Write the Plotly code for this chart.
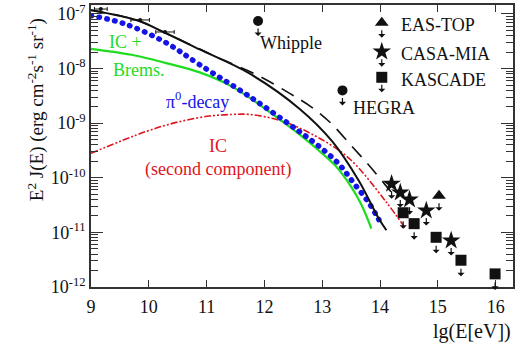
import numpy as np
import plotly.graph_objects as go

# ---- model curves: lg(E/eV) and log10(E^2 J(E)) ----
total_lge = [9.0, 9.81, 10.27, 10.88, 11.74, 12.6, 13.17, 13.63, 13.97, 14.11]
total_log = [-6.93, -7.12, -7.34, -7.65, -8.09, -8.73, -9.33, -10.05, -10.73, -10.96]

alt_lge = [9.0, 9.81, 10.27, 10.88, 11.17, 11.86, 12.43, 12.82, 13.15, 13.51, 13.8, 14.09, 14.27]
alt_log = [-6.93, -7.12, -7.34, -7.64, -7.79, -8.11, -8.45, -8.71, -9.0, -9.42, -9.76, -10.13, -10.36]

pion_lge = [9.0, 9.58, 10.27, 10.88, 11.74, 12.6, 12.94, 13.29, 13.54, 13.8, 13.97, 14.03]
pion_log = [-7.03, -7.18, -7.51, -7.93, -8.51, -9.15, -9.42, -9.75, -10.09, -10.45, -10.75, -10.87]

icb_lge = [9.0, 9.76, 10.3, 10.88, 11.44, 12.03, 12.5, 12.94, 13.23, 13.51, 13.68, 13.85]
icb_log = [-7.64, -7.76, -7.9, -8.07, -8.33, -8.75, -9.12, -9.5, -9.78, -10.18, -10.5, -10.93]

ic2_lge = [9.0, 9.96, 10.5, 11.05, 11.44, 11.74, 12.3, 12.89, 13.46, 14.09, 14.44]
ic2_log = [-9.55, -9.15, -8.98, -8.87, -8.84, -8.84, -8.96, -9.24, -9.64, -10.42, -10.93]

# ---- measured points at low energy ----
meas_lge = [9.17, 9.85, 10.28]
meas_log = [-6.91, -7.11, -7.33]
meas_dlge = [0.11, 0.16, 0.16]

# ---- upper limits ----
whipple_lge, whipple_log = [11.89], [-7.13]
hegra_lge, hegra_log = [13.35], [-8.40]
eastop_lge, eastop_log = [15.02], [-10.33]
casa_lge = [14.20, 14.35, 14.51, 14.80, 15.23]
casa_log = [-10.11, -10.27, -10.40, -10.60, -11.15]
kascade_lge = [14.40, 14.59, 14.97, 15.40, 15.99]
kascade_log = [-10.64, -10.84, -11.09, -11.51, -11.76]

legend_names = ["EAS-TOP", "CASA-MIA", "KASCADE"]

x_ticks = [9, 10, 11, 12, 13, 14, 15, 16]
y_tick_exp = [-7, -8, -9, -10, -11, -12]


def lin(v):
    return 10 ** np.asarray(v, dtype=float)


FONT = "Liberation Serif, Times New Roman, Times, serif"
RED = "#e0141c"
GREEN = "#1fdc1f"
BLUE = "#1414e6"
INK = "#111111"

fig = go.Figure()

fig.add_trace(go.Scatter(x=ic2_lge, y=lin(ic2_log), mode="lines", line_shape="spline",
                         line=dict(color=RED, width=1.6, dash="7px,2px,2px,2px,2px,2px")))
fig.add_trace(go.Scatter(x=icb_lge, y=lin(icb_log), mode="lines", line_shape="spline",
                         line=dict(color=GREEN, width=2.2)))
# pi0 curve: drawn as a row of round dots (round caps added after render)
fig.add_trace(go.Scatter(x=pion_lge, y=lin(pion_log), mode="lines", line_shape="spline",
                         line=dict(color=BLUE, width=5.5, dash="0.5px,7.5px")))
fig.add_trace(go.Scatter(x=alt_lge, y=lin(alt_log), mode="lines", line_shape="spline",
                         line=dict(color=INK, width=1.6, dash="14px,9px")))
fig.add_trace(go.Scatter(x=total_lge, y=lin(total_log), mode="lines", line_shape="spline",
                         line=dict(color=INK, width=2)))

fig.add_trace(go.Scatter(x=meas_lge, y=lin(meas_log), mode="markers",
                         marker=dict(color=INK, size=4),
                         error_x=dict(type="data", array=meas_dlge, color=INK, thickness=1, width=2)))

# upper-limit markers
fig.add_trace(go.Scatter(x=whipple_lge + hegra_lge, y=lin(whipple_log + hegra_log), mode="markers",
                         marker=dict(symbol="circle", size=10, color=INK)))
fig.add_trace(go.Scatter(x=eastop_lge, y=lin(eastop_log), mode="markers",
                         marker=dict(symbol="triangle-up", size=12, color=INK)))
fig.add_trace(go.Scatter(x=casa_lge, y=lin(casa_log), mode="markers",
                         marker=dict(symbol="star", size=14, color=INK)))
fig.add_trace(go.Scatter(x=kascade_lge, y=lin(kascade_log), mode="markers",
                         marker=dict(symbol="square", size=11, color=INK)))

# legend key symbols (top right)
key_x = 14.03
key_y = [-7.16, -7.69, -8.16]
key_sym = ["triangle-up", "star", "square"]
key_size = [12, 14, 11]
for sym, size, y in zip(key_sym, key_size, key_y):
    fig.add_trace(go.Scatter(x=[key_x], y=lin([y]), mode="markers",
                             marker=dict(symbol=sym, size=size, color=INK)))

annotations = []


def down_arrow(x, ylog, shift):
    annotations.append(dict(x=x, y=ylog, xref="x", yref="y", text="", showarrow=True,
                            ax=0, ay=-9, yshift=-shift, arrowhead=1, arrowsize=1,
                            arrowwidth=1.2, arrowcolor=INK))


for x, y in zip(whipple_lge + hegra_lge, whipple_log + hegra_log):
    down_arrow(x, y, 15)
for x, y in zip(eastop_lge, eastop_log):
    down_arrow(x, y, 15)
for x, y in zip(casa_lge, casa_log):
    down_arrow(x, y, 15)
for x, y in zip(kascade_lge, kascade_log):
    down_arrow(x, y, 16)
for y in key_y:
    down_arrow(key_x, y, 15)


def label(text, x, ylog, color=INK, size=18, anchor="center"):
    annotations.append(dict(x=x, y=ylog, xref="x", yref="y", text=text, showarrow=False,
                            xanchor=anchor, yanchor="middle",
                            font=dict(family=FONT, size=size, color=color)))


label("IC +", 9.59, -7.51, GREEN)
label("Brems.", 9.83, -8.02, GREEN)
label("π<sup>0</sup>-decay", 10.84, -8.58, BLUE)
label("IC", 11.2, -9.42, RED)
label("(second component)", 11.19, -9.84, RED)
label("Whipple", 12.46, -7.54)
label("HEGRA", 14.06, -8.73)
for name, y in zip(legend_names, key_y):
    label(name, 14.32, y - 0.05, anchor="left")

annotations.append(dict(x=-0.165, y=0.63, xref="paper", yref="paper", showarrow=False,
                        text="E<sup>2</sup> J(E) (erg cm<sup>-2</sup>s<sup>-1</sup> sr<sup>-1</sup>)",
                        textangle=-90, font=dict(family=FONT, size=19, color=INK)))
annotations.append(dict(x=1.0, y=-0.158, xref="paper", yref="paper", showarrow=False,
                        text="lg(E[eV])", xanchor="right", yanchor="middle",
                        font=dict(family=FONT, size=20, color=INK)))

axis_common = dict(showline=True, linecolor="#333333", linewidth=1.5, mirror="allticks",
                   ticks="inside", tickcolor="#333333", showgrid=False, zeroline=False,
                   tickfont=dict(family=FONT, size=18, color=INK))

fig.update_layout(
    width=518, height=348,
    margin=dict(l=91, r=3, t=3, b=61),
    paper_bgcolor="white", plot_bgcolor="white",
    showlegend=False,
    font=dict(family=FONT, color=INK),
    annotations=annotations,
    xaxis=dict(range=[9, 16.3], tickvals=x_ticks, ticktext=[str(v) for v in x_ticks],
               ticklen=7, ticklabelstandoff=3, **axis_common),
    yaxis=dict(type="log", range=[-12, -6.836], tickvals=list(lin(y_tick_exp)),
               ticktext=["10<sup>%d</sup>" % e for e in y_tick_exp], ticklen=12,
               minor=dict(ticks="inside", ticklen=7, tickcolor="#333333", dtick="D1"),
               **axis_common),
)

# give the dotted pi0 line round caps so each dash renders as a dot
round_dots = """
var gd = document.querySelector('.js-plotly-plot');
function roundDots() {
  var traces = gd.querySelectorAll('.scatterlayer .trace');
  if (traces.length > 2) {
    traces[2].querySelectorAll('path.js-line').forEach(function (p) {
      p.style.strokeLinecap = 'round';
    });
  }
}
roundDots();
gd.on('plotly_afterplot', roundDots);
"""

fig.write_html("out.html", post_script=round_dots)
